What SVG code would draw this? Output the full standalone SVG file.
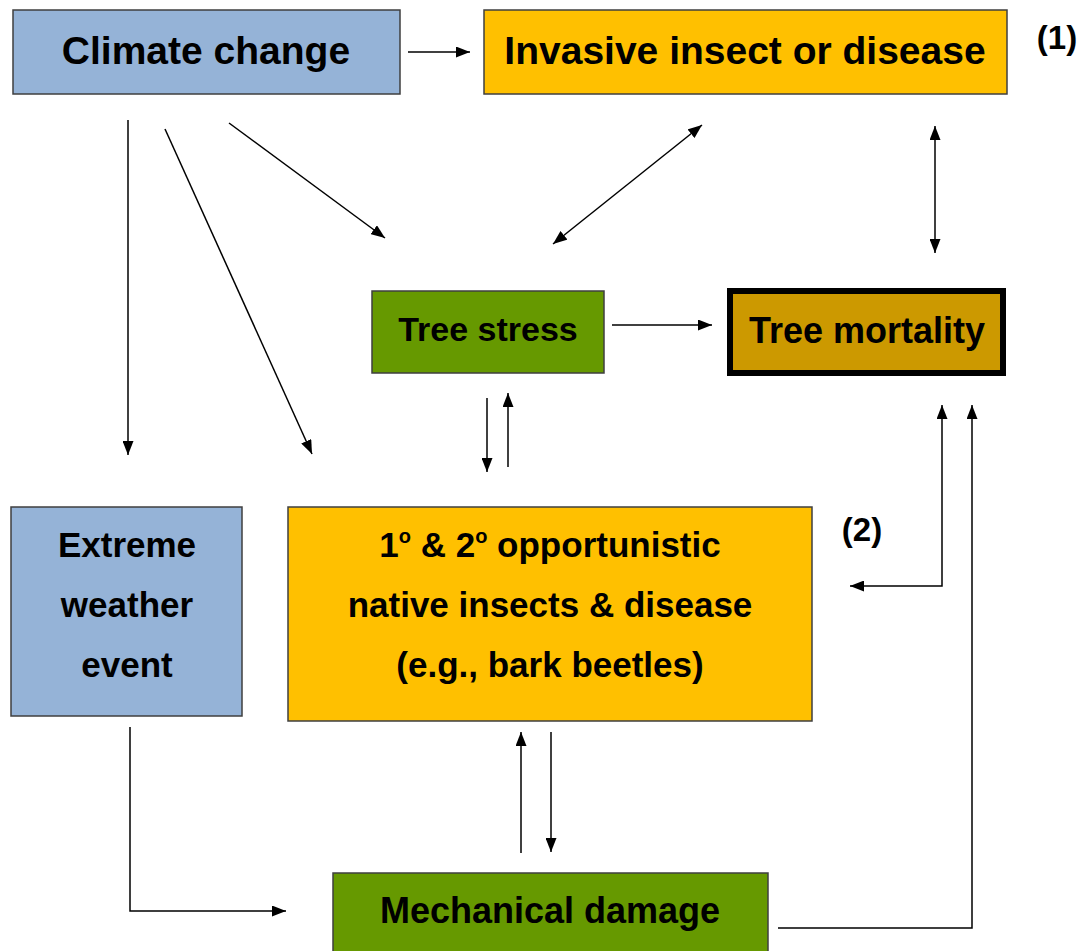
<svg xmlns="http://www.w3.org/2000/svg" width="1088" height="951" viewBox="0 0 1088 951">
<style>
.box{stroke:#3f3f3f;stroke-width:1.5}
.blue{fill:#95B3D7}
.orange{fill:#FFC000}
.green{fill:#669900}
.brown{fill:#CC9900;stroke:#000;stroke-width:6}
text{font-family:"Liberation Sans",Arial,sans-serif;font-weight:bold;fill:#000;text-anchor:middle}
.conn{fill:none;stroke:#000;stroke-width:1.5}
.a{marker-end:url(#ah)}
.b{marker-start:url(#ah);marker-end:url(#ah)}
</style>
<defs>
<marker id="ah" markerUnits="userSpaceOnUse" markerWidth="14" markerHeight="11" refX="14" refY="5.5" orient="auto-start-reverse" viewBox="0 0 14 11">
<path d="M0,0 L14,5.5 L0,11 z" fill="#000"/>
</marker>
</defs>
<rect width="1088" height="951" fill="#fff"/>
<g id="climate-change">
<rect class="box blue" x="13" y="10" width="387" height="84"/>
<text x="206" y="64" font-size="39">Climate change</text>
</g>
<g id="invasive">
<rect class="box orange" x="484" y="10" width="523" height="84"/>
<text x="745" y="64" font-size="39">Invasive insect or disease</text>
</g>
<g id="label-1">
<text x="1057" y="49" font-size="33">(1)</text>
</g>
<g id="tree-stress">
<rect class="box green" x="372" y="291" width="232" height="82"/>
<text x="488" y="341" font-size="34">Tree stress</text>
</g>
<g id="tree-mortality">
<rect class="brown" x="730" y="291" width="273" height="82"/>
<text x="867" y="343" font-size="36">Tree mortality</text>
</g>
<g id="extreme-weather">
<rect class="box blue" x="11" y="507" width="231" height="209"/>
<text x="127" y="557" font-size="35">Extreme</text>
<text x="127" y="617" font-size="35">weather</text>
<text x="127" y="677" font-size="35">event</text>
</g>
<g id="native-insects">
<rect class="box orange" x="288" y="507" width="524" height="214"/>
<text x="550" y="557" font-size="35">1<tspan font-size="20" dy="-14">o</tspan><tspan dy="14"> &amp; 2</tspan><tspan font-size="20" dy="-14">o</tspan><tspan dy="14"> opportunistic</tspan></text>
<text x="550" y="617" font-size="35">native insects &amp; disease</text>
<text x="550" y="677" font-size="35">(e.g., bark beetles)</text>
</g>
<g id="label-2">
<text x="862" y="541" font-size="33">(2)</text>
</g>
<g id="mechanical-damage">
<rect class="box green" x="333" y="873" width="435" height="95"/>
<text x="550" y="923" font-size="36">Mechanical damage</text>
</g>
<g id="connectors">
<line class="conn a" x1="408" y1="52" x2="470" y2="52"/>
<line class="conn a" x1="128" y1="120" x2="128" y2="455"/>
<line class="conn a" x1="165" y1="129" x2="312" y2="454"/>
<line class="conn a" x1="229" y1="123" x2="385" y2="238"/>
<line class="conn b" x1="553" y1="244" x2="702" y2="125"/>
<line class="conn b" x1="935" y1="126" x2="935" y2="253"/>
<line class="conn a" x1="612" y1="325" x2="712" y2="325"/>
<line class="conn a" x1="487" y1="398" x2="487" y2="472"/>
<line class="conn a" x1="508" y1="467" x2="508" y2="393"/>
<polyline class="conn b" points="850,586 942,586 942,405"/>
<polyline class="conn a" points="778,928 972,928 972,405"/>
<line class="conn a" x1="521" y1="853" x2="521" y2="732"/>
<line class="conn a" x1="551" y1="732" x2="551" y2="852"/>
<polyline class="conn a" points="130,727 130,911 286,911"/>
</g>
</svg>
